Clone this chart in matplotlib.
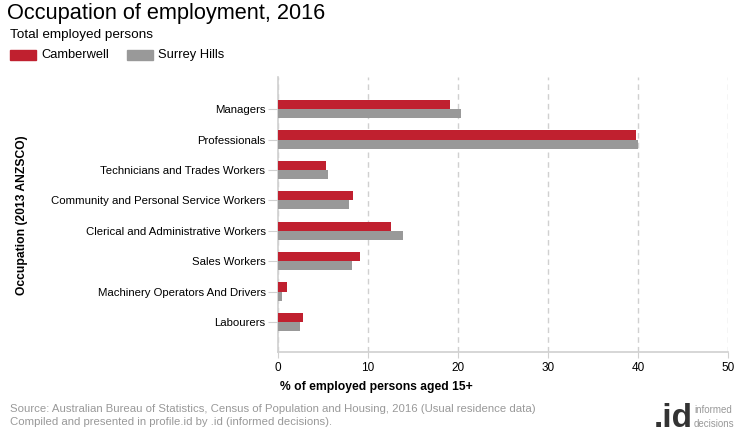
import matplotlib

matplotlib.use("Agg")
import matplotlib.pyplot as plt
import numpy as np
from matplotlib.patches import Rectangle

plt.rcParams["font.family"] = ["Liberation Sans", "DejaVu Sans"]

CATEGORIES = [
    "Managers",
    "Professionals",
    "Technicians and Trades Workers",
    "Community and Personal Service Workers",
    "Clerical and Administrative Workers",
    "Sales Workers",
    "Machinery Operators And Drivers",
    "Labourers",
]
CAMBERWELL = [19.1, 39.8, 5.3, 8.3, 12.6, 9.1, 1.0, 2.8]
SURREY_HILLS = [20.3, 40.0, 5.5, 7.9, 13.9, 8.2, 0.4, 2.4]
X_TICKS = [0, 10, 20, 30, 40, 50]

RED, GREY = "#c0202f", "#999999"
W, H = 740, 440

fig = plt.figure(figsize=(W / 100, H / 100), dpi=100)
ax = fig.add_axes([278 / W, 1 - 352 / H, 450 / W, (352 - 77) / H])

y = np.arange(len(CATEGORIES))
bh = 0.3
ax.barh(y - bh / 2, CAMBERWELL, bh, color=RED, zorder=3)
ax.barh(y + bh / 2, SURREY_HILLS, bh, color=GREY, zorder=3)

ax.set_xlim(0, 50)
ax.set_ylim(7.99, -1.06)
ax.set_xticks(X_TICKS)
ax.set_xticklabels([str(t) for t in X_TICKS], fontsize=8.5)
ax.set_yticks(y)
ax.set_yticklabels(CATEGORIES, fontsize=8.2)
ax.tick_params(axis="y", length=7, color="#d0d0d0", pad=2)
ax.tick_params(axis="x", length=4, color="#d0d0d0", pad=3)
for t in ax.yaxis.get_major_ticks():
    t.tick1line.set_linestyle((0, (2, 2)))
ax.grid(axis="x", color="#d0d0d0", linestyle=(0, (4, 3)), linewidth=1, zorder=0)
for s in ["top", "right"]:
    ax.spines[s].set_visible(False)
for s in ["left", "bottom"]:
    ax.spines[s].set_color("#d0d0d0")
    ax.spines[s].set_linewidth(1.2)

fig.text(280 / W, 1 - 387 / H, "% of employed persons aged 15+", fontsize=8.7,
         fontweight="bold", va="center", ha="left")
fig.text(22 / W, 1 - 215 / H, "Occupation (2013 ANZSCO)", fontsize=8.7,
         fontweight="bold", rotation=90, va="center", ha="center")

# header
fig.text(7 / W, 1 - 14 / H, "Occupation of employment, 2016", fontsize=15.7, va="center")
fig.text(10 / W, 1 - 35 / H, "Total employed persons", fontsize=9.7, va="center")
fig.patches.append(Rectangle((10 / W, 1 - 60 / H), 26 / W, 10 / H, color=RED,
                             transform=fig.transFigure, figure=fig))
fig.text(41 / W, 1 - 55 / H, "Camberwell", fontsize=9.3, va="center")
fig.patches.append(Rectangle((127 / W, 1 - 60 / H), 26 / W, 10 / H, color=GREY,
                             transform=fig.transFigure, figure=fig))
fig.text(158 / W, 1 - 55 / H, "Surrey Hills", fontsize=9.3, va="center")

# footer
fig.text(10 / W, 1 - 409 / H,
         "Source: Australian Bureau of Statistics, Census of Population and Housing, 2016 (Usual residence data)",
         fontsize=8.2, color="#999999", va="center")
fig.text(10 / W, 1 - 422 / H, "Compiled and presented in profile.id by .id (informed decisions).",
         fontsize=8.2, color="#999999", va="center")
fig.text(673 / W, 1 - 418 / H, ".id", fontsize=24, fontweight="bold", color="#333333",
         va="center", ha="center")
fig.text(694 / W, 1 - 410 / H, "informed", fontsize=7, color="#999999", va="center")
fig.text(694 / W, 1 - 424 / H, "decisions", fontsize=7, color="#999999", va="center")

fig.savefig("out.png", dpi=100)
